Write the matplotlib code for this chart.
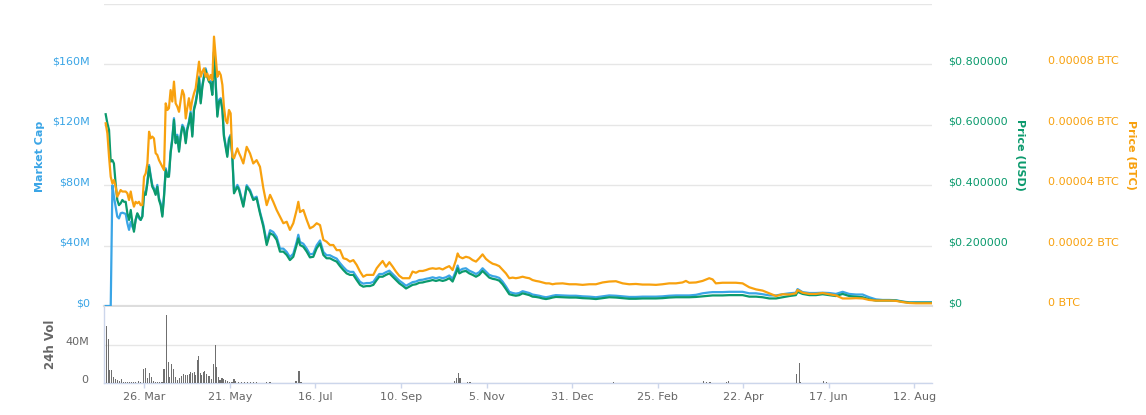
import numpy as np
import pandas as pd
import matplotlib
matplotlib.use("Agg")
import matplotlib.pyplot as plt

# ---------------- data ----------------
origin = pd.Timestamp("2017-02-27 14:00")
span_days = 542.0

days_a = [1.1, 2.2, 3.3, 4.4, 5.5, 6.5, 7.6, 8.7, 9.8, 10.9, 12.0, 13.1, 14.2, 15.3, 16.4, 17.5, 18.5, 19.6,
          20.7, 21.8, 22.9, 24.0, 25.1, 26.2, 27.3, 28.4, 29.5, 30.5, 31.6, 32.7, 33.8, 34.9, 36.0, 37.1, 38.2,
          39.3, 40.4, 41.5, 42.5, 43.6, 44.7, 45.8, 46.9, 48.0, 49.1, 50.2, 51.3, 52.4, 53.5, 54.5, 55.6, 56.7,
          57.8, 58.9, 60.0, 61.1, 62.2, 63.3, 64.4, 65.5, 66.5, 67.6, 68.7, 69.8, 70.9, 72.0, 73.1, 74.2, 75.3,
          76.4, 77.5, 78.5, 79.6, 80.7, 81.8, 82.9, 84.0, 85.1, 86.2, 87.3, 88.4, 89.5]
days_b = [91.2, 93.4, 95.6, 97.7, 99.9, 102.1, 104.3, 106.5, 108.7, 110.8, 113.0, 115.2, 117.4, 119.6, 121.7,
          123.9, 126.1, 127.2, 128.3, 130.5, 132.7, 134.8, 137.0, 139.2, 141.4, 143.6, 145.7, 147.9, 150.1,
          152.3, 154.5, 156.7, 158.8, 161.0, 163.2, 165.4, 167.6, 169.7, 171.9, 174.1, 176.3, 178.5]
days_c = [180.2, 182.4, 184.6, 186.8, 189.0, 191.1, 193.3, 195.5, 197.7, 199.9, 202.0, 204.2, 206.4, 208.6,
          210.8, 212.9, 215.1, 217.3, 219.5, 221.7, 223.8, 226.0, 228.2, 230.4, 231.5, 232.6, 234.7, 236.9,
          239.1, 241.3, 243.5, 245.6, 247.8, 250.0, 252.2, 254.4, 256.5, 258.7, 260.9, 263.1, 265.3, 267.5,
          269.6, 271.8, 274.0, 276.2, 278.4, 280.5, 282.7, 284.9, 287.1, 289.3, 291.4, 293.6, 295.8]
days_d = [300.2, 304.6, 308.9, 313.3, 317.7, 322.0, 326.4, 330.7, 335.1, 339.5, 343.8, 348.2, 352.5, 356.9,
          361.3, 365.6, 370.0, 374.4, 378.7, 380.9, 383.1, 387.5, 391.8, 396.2, 398.4, 400.5, 404.9, 409.3, 413.6]
days_e = [418.0, 422.4, 426.8, 431.1, 435.5, 439.9, 444.2, 448.6, 452.9, 454.0, 457.3, 461.7, 466.0, 470.4,
          474.7, 479.1, 483.5, 487.8, 492.2, 496.6, 500.9, 505.3, 509.6, 514.0, 518.4, 522.7, 527.1, 531.5,
          535.8, 541.9]

# Price (USD)
usd_a = [0.635, 0.605, 0.583, 0.478, 0.483, 0.472, 0.406, 0.351, 0.334, 0.340, 0.351, 0.345, 0.345, 0.307,
         0.285, 0.318, 0.279, 0.246, 0.285, 0.307, 0.296, 0.285, 0.296, 0.373, 0.368, 0.406, 0.461, 0.428,
         0.395, 0.384, 0.368, 0.395, 0.351, 0.334, 0.296, 0.362, 0.450, 0.428, 0.428, 0.506, 0.550, 0.616,
         0.539, 0.561, 0.511, 0.561, 0.594, 0.583, 0.539, 0.583, 0.605, 0.638, 0.561, 0.649, 0.671, 0.704,
         0.754, 0.671, 0.726, 0.759, 0.781, 0.759, 0.743, 0.737, 0.699, 0.842, 0.737, 0.627, 0.677, 0.682,
         0.649, 0.561, 0.528, 0.494, 0.550, 0.561, 0.494, 0.373, 0.384, 0.395, 0.384, 0.362]
usd_b = [0.329, 0.395, 0.379, 0.351, 0.357, 0.307, 0.263, 0.202, 0.241, 0.235, 0.219, 0.180, 0.180, 0.169,
         0.152, 0.163, 0.202, 0.224, 0.202, 0.196, 0.180, 0.161, 0.163, 0.191, 0.207, 0.169, 0.158, 0.158,
         0.152, 0.147, 0.132, 0.119, 0.108, 0.103, 0.103, 0.086, 0.070, 0.064, 0.066, 0.066, 0.070, 0.086]
usd_c = [0.097, 0.097, 0.103, 0.108, 0.097, 0.086, 0.075, 0.067, 0.058, 0.064, 0.070, 0.072, 0.077, 0.078,
         0.081, 0.083, 0.086, 0.083, 0.086, 0.083, 0.086, 0.092, 0.081, 0.108, 0.125, 0.108, 0.114, 0.116,
         0.108, 0.103, 0.097, 0.103, 0.116, 0.105, 0.094, 0.090, 0.088, 0.084, 0.072, 0.056, 0.039, 0.036,
         0.034, 0.036, 0.042, 0.039, 0.036, 0.031, 0.030, 0.028, 0.025, 0.023, 0.025, 0.028, 0.030]
usd_d = [0.029, 0.028, 0.028, 0.026, 0.025, 0.023, 0.026, 0.029, 0.028, 0.026, 0.024, 0.024, 0.025, 0.025,
         0.025, 0.026, 0.028, 0.029, 0.029, 0.029, 0.029, 0.030, 0.032, 0.034, 0.035, 0.035, 0.035, 0.036, 0.036]
usd_e = [0.036, 0.031, 0.031, 0.029, 0.025, 0.025, 0.029, 0.033, 0.036, 0.047, 0.040, 0.036, 0.036, 0.039,
         0.036, 0.033, 0.040, 0.033, 0.031, 0.029, 0.022, 0.018, 0.018, 0.018, 0.018, 0.014, 0.011, 0.011,
         0.011, 0.011]

# Price (BTC), in satoshi
sat_a = [6050, 5720, 4940, 4280, 4060, 4170, 3950, 3620, 3730, 3840, 3790, 3790, 3790, 3730, 3510, 3790, 3510,
         3290, 3450, 3400, 3450, 3340, 3340, 4280, 4390, 4720, 5770, 5550, 5610, 5550, 5060, 5000, 4830, 4720,
         4610, 4500, 6710, 6490, 6550, 7150, 6770, 7430, 6710, 6600, 6430, 6820, 7150, 6990, 6210, 6550, 6880,
         6490, 6820, 7040, 7210, 7650, 8090, 7590, 7760, 7870, 7590, 7700, 7480, 7650, 7480, 8920, 8260, 7590,
         7760, 7650, 7320, 6600, 6160, 6050, 6490, 6380, 4940, 4890, 5060, 5220, 5060, 4940]
sat_b = [4720, 5270, 5050, 4720, 4830, 4610, 3900, 3340, 3680, 3450, 3180, 2960, 2740, 2790, 2520, 2740, 3180,
         3450, 3110, 3180, 2850, 2570, 2630, 2740, 2680, 2190, 2130, 2020, 2020, 1850, 1850, 1580, 1550, 1470,
         1520, 1360, 1140, 970, 1030, 1030, 1030, 1250]
sat_c = [1360, 1490, 1300, 1450, 1300, 1140, 1000, 920, 920, 920, 1140, 1100, 1160, 1160, 1190, 1230, 1250,
         1230, 1250, 1210, 1270, 1320, 1190, 1520, 1740, 1630, 1580, 1630, 1600, 1520, 1470, 1580, 1710, 1560,
         1470, 1400, 1370, 1320, 1200, 1080, 920, 940, 920, 940, 970, 940, 920, 860, 830, 810, 780, 750, 750,
         720, 740]
sat_d = [750, 720, 720, 700, 720, 720, 780, 810, 820, 750, 720, 730, 710, 710, 700, 720, 750, 750, 780, 830,
         770, 780, 830, 920, 880, 750, 770, 770, 770]
sat_e = [750, 620, 550, 510, 420, 330, 390, 380, 420, 530, 440, 400, 400, 430, 390, 350, 250, 250, 260, 250,
         200, 180, 180, 180, 170, 130, 100, 90, 90, 90]

# Market cap, $M
mcap_a = [0, 0, 0, 0, 80.0, 72.4, 65.8, 59.2, 58.0, 61.4, 61.8, 61.4, 61.0, 54.8, 50.4, 55.8, 52.6, 50.4, 57.0,
          61.0, 58.0, 57.0, 59.6, 75.8, 74.8, 82.4, 93.4, 86.8, 80.2, 78.0, 74.8, 80.2, 71.4, 68.0, 60.4, 73.6,
          91.2, 86.8, 86.8, 102.4, 111.2, 124.4, 109.0, 113.4, 103.4, 113.4, 120.0, 117.8, 109.0, 117.8, 122.2,
          128.8, 113.4, 131.0, 135.4, 142.0, 152.0, 135.4, 146.4, 153.0, 157.4, 153.0, 149.8, 148.6, 141.0,
          168.0, 148.6, 126.6, 136.6, 137.6, 131.0, 113.4, 106.8, 100.0, 111.2, 113.4, 100.0, 75.8, 78.0, 80.2,
          78.0, 73.6]
mcap_b = [66.8, 80.0, 76.8, 71.2, 72.4, 62.4, 54.0, 42.2, 50.2, 49.0, 45.8, 38.0, 38.0, 35.8, 32.4, 34.6, 42.4,
          47.2, 42.4, 41.2, 38.0, 34.2, 34.6, 40.2, 43.4, 35.8, 33.6, 33.6, 32.4, 31.4, 28.4, 25.8, 23.6, 22.6,
          22.6, 19.2, 16.0, 14.8, 15.2, 15.2, 16.0, 19.2]
mcap_c = [21.2, 21.2, 22.4, 23.4, 21.2, 19.0, 16.8, 15.2, 13.4, 14.6, 15.8, 16.2, 17.2, 17.4, 18.0, 18.4, 19.0,
          18.4, 19.0, 18.4, 19.0, 20.2, 18.0, 23.4, 26.8, 23.4, 24.6, 25.0, 23.4, 22.4, 21.2, 22.4, 25.0, 22.8,
          20.6, 19.8, 19.4, 18.6, 16.2, 13.0, 9.4, 8.6, 8.2, 8.6, 9.8, 9.2, 8.6, 7.6, 7.2, 6.8, 6.2, 5.8, 6.2,
          6.8, 7.2]
mcap_d = [7.0, 6.8, 6.8, 6.4, 6.2, 5.8, 6.4, 7.0, 6.8, 6.4, 6.0, 6.0, 6.2, 6.2, 6.2, 6.4, 6.8, 7.0, 7.0, 7.0,
          7.0, 7.4, 8.4, 9.0, 9.2, 9.2, 9.2, 9.4, 9.4]
mcap_e = [9.4, 8.4, 8.4, 7.8, 7.0, 7.0, 7.8, 8.4, 8.8, 11.2, 9.2, 8.6, 8.6, 8.8, 8.6, 8.0, 9.4, 8.0, 7.6, 7.6,
          5.8, 4.4, 4.0, 4.0, 3.8, 3.0, 2.4, 2.4, 2.4, 2.4]

# 24h volume, $M
vol_days = [1.5, 2.8, 3.5, 4.8, 6.1, 7.4, 8.7, 10.0, 11.3, 12.6,
            14.0, 15.3, 16.6, 17.9, 19.2, 20.5, 22.5, 24.0,
            25.7, 27.3, 28.6, 29.7, 31.0, 32.3,
            33.6, 34.9, 36.2, 37.5, 38.4,
            39.3, 40.8, 42.1, 42.8, 44.1, 45.4, 46.7, 48.0, 49.3, 50.6,
            51.9, 53.2, 54.5, 55.9, 56.7, 57.8, 59.1, 60.0, 61.1, 61.9,
            63.0, 63.9, 65.2, 66.0, 67.1, 68.2, 69.3, 70.4, 71.6, 72.9,
            73.5, 74.8, 75.9, 77.2, 78.5, 79.8, 81.1, 82.4, 83.8, 85.1,
            86.2, 88.0, 90.0, 92.0, 94.0, 96.0, 98.0, 100.0,
            106.5, 108.7, 125.7, 127.6, 129.0, 141.4, 148.6, 178.5, 202.0, 214.5,
            221.0, 229.7, 230.8, 231.9, 233.0, 238.0, 239.6, 246.5, 326.8, 333.4,
            392.3, 394.5, 396.7, 407.6, 408.6, 453.4, 455.1, 456.0, 470.8, 473.0, 477.8]
vol_m = [60.3, 46.3, 13.7, 13.7, 6.7, 3.9, 3.2, 2.1, 4.2, 1.4,
         0.8, 0.8, 0.7, 0.8, 0.7, 0.8, 2.0, 1.5,
         14.7, 16.1, 4.9, 10.9, 6.7, 2.0,
         0.8, 0.7, 0.8, 0.7, 1.0,
         14.7, 71.6, 22.1, 6.7, 19.6, 14.4, 6.7, 3.2, 5.6, 7.7,
         9.8, 8.4, 8.4, 9.1, 11.9, 10.2, 11.9, 8.4, 24.2, 28.8,
         10.9, 8.4, 11.9, 12.6, 9.1, 7.0, 7.0, 4.2, 20.0, 40.0,
         17.2, 6.7, 3.2, 5.6, 4.2, 3.2, 2.1, 1.4, 1.4, 4.2,
         2.1, 0.8, 1.0, 0.7, 1.2, 0.8, 0.7, 0.8,
         1.5, 1.2, 2.5, 12.6, 1.5, 0.5, 0.5, 0.5, 0.5, 0.5,
         0.5, 2.5, 5.0, 10.9, 5.3, 0.8, 0.8, 0.5, 0.5, 1.4,
         2.0, 1.2, 1.2, 1.5, 2.5, 9.5, 21.4, 1.5, 2.5, 1.4, 0.5]

tick_dates = ["2017-03-26", "2017-05-21", "2017-07-16", "2017-09-10", "2017-11-05",
              "2017-12-31", "2018-02-25", "2018-04-22", "2018-06-17", "2018-08-12"]
mcap_ticks_m = [0, 40, 80, 120, 160, 200]
usd_ticks = [0, 0.2, 0.4, 0.6, 0.8]
btc_ticks = [0, 0.00002, 0.00004, 0.00006, 0.00008]
vol_ticks_m = [0, 40]

# ---------------- build ----------------
days = np.array(days_a + days_b + days_c + days_d + days_e)
dates = origin + pd.to_timedelta(days, unit="D")
usd = np.array(usd_a + usd_b + usd_c + usd_d + usd_e)
btc = np.array(sat_a + sat_b + sat_c + sat_d + sat_e) * 1e-8
mcap = np.array(mcap_a + mcap_b + mcap_c + mcap_d + mcap_e) * 1e6
vdates = origin + pd.to_timedelta(np.array(vol_days), unit="D")
vol = np.array(vol_m) * 1e6

C_BLUE = "#3AA5E6"
C_GREEN = "#0B9A6D"
C_ORANGE = "#F8A10E"
C_GRID = "#e6e6e6"
C_AX = "#ccd6eb"
C_TXT = "#666666"

W, H = 1146, 415
fig = plt.figure(figsize=(W / 100, H / 100), dpi=100)
plt.rcParams["font.family"] = ["DejaVu Sans"]

L, R = 104, 932
ax = fig.add_axes([L / W, 1 - 306 / H, (R - L) / W, 302 / H])
axv = fig.add_axes([L / W, 1 - 383 / H, (R - L) / W, 76 / H])
xmin, xmax = origin, origin + pd.Timedelta(days=span_days)

# main axis: market cap
ax.plot(dates, mcap, color=C_BLUE, lw=1.6, zorder=3, solid_joinstyle="round")
ax.set_xlim(xmin, xmax)
ax.set_ylim(0, 200e6)
ax.set_yticks([v * 1e6 for v in mcap_ticks_m])
ax.set_yticklabels([("$%dM" % v if v else "$0") if v < 200 else "" for v in mcap_ticks_m],
                   color=C_BLUE, fontsize=8, va="baseline")
ax.tick_params(axis="y", length=0, pad=10)
ax.tick_params(axis="x", bottom=False, labelbottom=False)
ax.grid(axis="y", color=C_GRID, lw=1)
ax.set_axisbelow(True)
for s in ["top", "right", "left"]:
    ax.spines[s].set_visible(False)
ax.spines["bottom"].set_color("#dddddd")
ax.spines["bottom"].set_linewidth(1.6)
ax.patch.set_alpha(0)

# USD axis
axu = ax.twinx()
axu.plot(dates, usd, color=C_GREEN, lw=1.6, zorder=4, solid_joinstyle="round")
axu.set_ylim(0, 1.0)
axu.set_yticks(usd_ticks)
axu.set_yticklabels(["$0" if v == 0 else "$%.6f" % v for v in usd_ticks],
                    color=C_GREEN, fontsize=8, va="baseline")
axu.tick_params(axis="y", length=0, pad=11.7)
for s in axu.spines.values():
    s.set_visible(False)

# BTC axis
axb = ax.twinx()
axb.plot(dates, btc, color=C_ORANGE, lw=1.6, zorder=5, solid_joinstyle="round")
axb.set_ylim(0, 1e-4)
axb.set_yticks(btc_ticks)
axb.set_yticklabels(["0 BTC" if v == 0 else "%.5f BTC" % v for v in btc_ticks],
                    color=C_ORANGE, fontsize=8, va="baseline")
axb.tick_params(axis="y", length=0, pad=83.3)
for s in axb.spines.values():
    s.set_visible(False)
axb.set_xlim(xmin, xmax)

# volume panel
axv.bar(vdates, vol, width=0.75, color="#6f6f6f", zorder=3)
axv.set_xlim(xmin, xmax)
axv.set_ylim(0, 80e6)
axv.set_yticks([v * 1e6 for v in vol_ticks_m])
axv.set_yticklabels(["0" if v == 0 else "%dM" % v for v in vol_ticks_m],
                    color=C_TXT, fontsize=8, va="baseline")
axv.tick_params(axis="y", length=0, pad=11)
axv.grid(axis="y", color=C_GRID, lw=1)
axv.set_axisbelow(True)
for s in ["top", "right"]:
    axv.spines[s].set_visible(False)
for s in ["left", "bottom"]:
    axv.spines[s].set_color(C_AX)
    axv.spines[s].set_linewidth(1)
tds = [pd.Timestamp(d) for d in tick_dates]
axv.set_xticks(tds)
axv.set_xticklabels(["%d. %s" % (d.day, d.strftime("%b")) for d in tds], fontsize=8, color=C_TXT)
axv.tick_params(axis="x", length=3.6, width=1, color=C_AX, pad=3)

# axis titles
fig.text(40 / W, 1 - 156 / H, "Market Cap", rotation=90, ha="center", va="center",
         color=C_BLUE, fontsize=8, fontweight="bold")
fig.text(51 / W, 1 - 344 / H, "24h Vol", rotation=90, ha="center", va="center",
         color=C_TXT, fontsize=8.5, fontweight="bold")
fig.text(1020 / W, 1 - 155 / H, "Price (USD)", rotation=270, ha="center", va="center",
         color=C_GREEN, fontsize=8, fontweight="bold")
fig.text(1131 / W, 1 - 155 / H, "Price (BTC)", rotation=270, ha="center", va="center",
         color=C_ORANGE, fontsize=8, fontweight="bold")

fig.savefig("out.png", dpi=100)
